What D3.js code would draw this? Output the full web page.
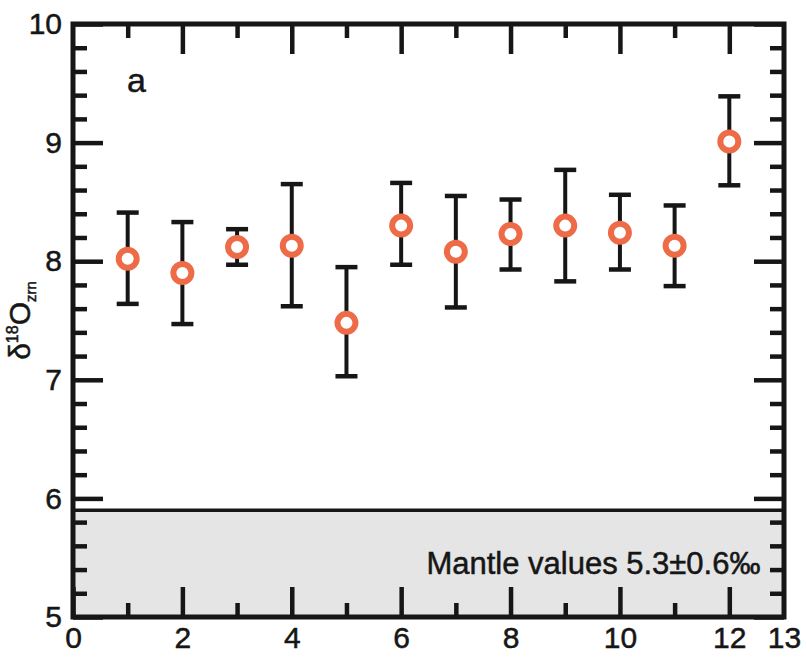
<!DOCTYPE html>
<html>
<head>
<meta charset="utf-8">
<script src="https://cdn.jsdelivr.net/npm/d3@7"></script>
<style>
  body { margin: 0; background: #fff; }
  text { font-family: "Liberation Sans", Arial, sans-serif; fill: #161616; stroke: #161616; stroke-width: 0.5px; }
</style>
</head>
<body>
<div id="chart"></div>
<script>
// Data
var sample = [1, 2, 3, 4, 5, 6, 7, 8, 9, 10, 11, 12];
var d18O   = [8.02, 7.90, 8.12, 8.13, 7.48, 8.30, 8.08, 8.23, 8.30, 8.24, 8.13, 9.01];
var errHi  = [8.41, 8.33, 8.27, 8.65, 7.95, 8.66, 8.55, 8.52, 8.77, 8.56, 8.47, 9.39];
var errLo  = [7.64, 7.47, 7.97, 7.62, 7.03, 7.97, 7.61, 7.93, 7.83, 7.93, 7.79, 8.64];
var xMajor = [0, 2, 4, 6, 8, 10, 12, 13];
var xMinor = [1, 3, 5, 7, 9, 11];
var yMajor = [5, 6, 7, 8, 9, 10];
var mantleTop = 5.9;
var mantleLabel = "Mantle values 5.3\u00b10.6\u2030";

// Dimensions and margins
var margin = {top: 24, right: 23, bottom: 44, left: 73},
    width = 807 - margin.left - margin.right,
    height = 661 - margin.top - margin.bottom;

var svg = d3.select("#chart")
    .append("svg")
    .attr("width", 807)
    .attr("height", 661)
    .append("g")
    .attr("transform", "translate(" + margin.left + "," + margin.top + ")");

var x = d3.scaleLinear().domain([0, 13]).range([0, width]);
var y = d3.scaleLinear().domain([5, 10]).range([height, 0]);

var ink = "#161616";

// Mantle band
svg.append("rect")
    .attr("x", 0)
    .attr("y", y(mantleTop))
    .attr("width", width)
    .attr("height", y(5) - y(mantleTop))
    .attr("fill", "#e5e5e5");

svg.append("line")
    .attr("x1", 0).attr("x2", width)
    .attr("y1", y(mantleTop)).attr("y2", y(mantleTop))
    .attr("stroke", ink).attr("stroke-width", 3.5);

svg.append("text")
    .attr("x", x(12.57))
    .attr("y", y(5.36))
    .attr("text-anchor", "end")
    .style("font-size", "31px")
    .text(mantleLabel);

// Minor y ticks every 0.2
var yMinor = d3.range(5.2, 10, 0.2).filter(function (v) {
    return Math.abs(v - Math.round(v)) > 0.01;
});

function styleAxis(g) {
    g.select(".domain").remove();
    g.selectAll("line").attr("stroke", ink).attr("stroke-width", 4.5);
    g.selectAll("text").style("font-size", "30px").attr("fill", ink);
}

// Bottom
svg.append("g").attr("transform", "translate(0," + height + ")")
    .call(d3.axisBottom(x).tickValues(xMajor).tickSize(-30).tickSizeOuter(0).tickPadding(10).tickFormat(d3.format("d")))
    .call(styleAxis)
    .selectAll(".tick line").filter(function (d) { return d === 13; }).remove();
svg.append("g").attr("transform", "translate(0," + height + ")")
    .call(d3.axisBottom(x).tickValues(xMinor).tickSize(-14).tickSizeOuter(0).tickFormat(""))
    .call(styleAxis);

// Top
svg.append("g")
    .call(d3.axisTop(x).tickValues(xMajor.filter(function (d) { return d < 13 && d > 0; })).tickSize(-30).tickSizeOuter(0).tickFormat(""))
    .call(styleAxis);
svg.append("g")
    .call(d3.axisTop(x).tickValues(xMinor).tickSize(-14).tickSizeOuter(0).tickFormat(""))
    .call(styleAxis);

// Left
svg.append("g")
    .call(d3.axisLeft(y).tickValues(yMajor).tickSize(-30).tickSizeOuter(0).tickPadding(11).tickFormat(d3.format("d")))
    .call(styleAxis);
svg.append("g")
    .call(d3.axisLeft(y).tickValues(yMinor).tickSize(-14).tickSizeOuter(0).tickFormat(""))
    .call(styleAxis);

// Right
svg.append("g").attr("transform", "translate(" + width + ",0)")
    .call(d3.axisRight(y).tickValues(yMajor).tickSize(-30).tickSizeOuter(0).tickFormat(""))
    .call(styleAxis);
svg.append("g").attr("transform", "translate(" + width + ",0)")
    .call(d3.axisRight(y).tickValues(yMinor).tickSize(-14).tickSizeOuter(0).tickFormat(""))
    .call(styleAxis);

// Frame
svg.append("rect")
    .attr("width", width).attr("height", height)
    .attr("fill", "none").attr("stroke", ink).attr("stroke-width", 5);

// Error bars
var data = sample.map(function (s, i) {
    return {s: s, v: d18O[i], hi: errHi[i], lo: errLo[i]};
});

var bars = svg.selectAll("g.err").data(data).enter().append("g").classed("err", true);
bars.append("line")
    .attr("x1", function (d) { return x(d.s); })
    .attr("x2", function (d) { return x(d.s); })
    .attr("y1", function (d) { return y(d.hi); })
    .attr("y2", function (d) { return y(d.lo); })
    .attr("stroke", ink).attr("stroke-width", 4);
["hi", "lo"].forEach(function (k) {
    bars.append("line")
        .attr("x1", function (d) { return x(d.s) - 11; })
        .attr("x2", function (d) { return x(d.s) + 11; })
        .attr("y1", function (d) { return y(d[k]); })
        .attr("y2", function (d) { return y(d[k]); })
        .attr("stroke", ink).attr("stroke-width", 4.5);
});

// Points
svg.selectAll("circle.pt").data(data).enter().append("circle")
    .classed("pt", true)
    .attr("cx", function (d) { return x(d.s); })
    .attr("cy", function (d) { return y(d.v); })
    .attr("r", 9)
    .attr("fill", "#fff")
    .attr("stroke", "#ee6b47")
    .attr("stroke-width", 6);

// Panel letter
svg.append("text")
    .attr("x", 54).attr("y", 68)
    .style("font-size", "34px")
    .text("a");

// Y axis title
var yt = svg.append("text")
    .attr("transform", "translate(" + (30 - margin.left) + "," + (height / 2) + ") rotate(-90)")
    .attr("text-anchor", "middle")
    .style("font-size", "30px");
yt.append("tspan").text("\u03b4");
yt.append("tspan").attr("dy", -12).style("font-size", "16px").text("18");
yt.append("tspan").attr("dy", 12).text("O");
yt.append("tspan").attr("dy", 6).style("font-size", "15px").text("zrn");
</script>
</body>
</html>
